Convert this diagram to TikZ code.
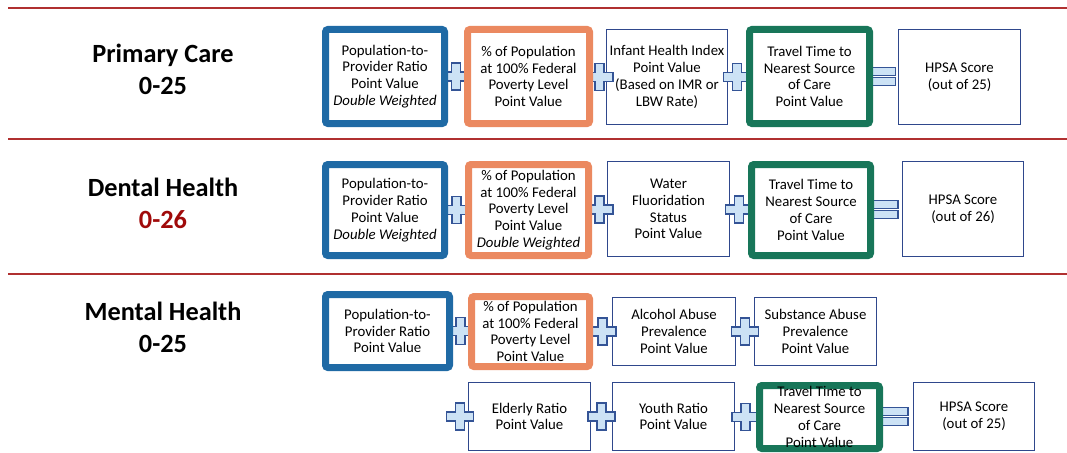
\documentclass[tikz,border=0pt]{standalone}
\usepackage{fontspec}
\setmainfont{Carlito}
\usetikzlibrary{calc}
\pgfdeclarelayer{back}
\pgfdeclarelayer{mid}
\pgfsetlayers{back,mid,main}
\definecolor{boxblue}{RGB}{31,106,165}
\definecolor{boxorange}{RGB}{235,137,96}
\definecolor{boxgreen}{RGB}{24,118,89}
\definecolor{thinblue}{RGB}{47,72,140}
\definecolor{plusfill}{RGB}{204,226,245}
\definecolor{plusline}{RGB}{52,84,150}
\definecolor{rulered}{RGB}{176,48,48}
\definecolor{scorered}{RGB}{160,10,10}
\newcommand{\boxfont}{\fontsize{14.8}{16.8}\selectfont}
\newcommand{\headfont}{\fontsize{26.3}{32}\selectfont\bfseries}

\begin{document}
\begin{tikzpicture}[x=1pt,y=-1pt,
    box/.style={draw=thinblue,line width=1.3pt,fill=white,inner sep=0pt,
      align=center,font=\boxfont},
    heavybox/.style={box,line width=7pt,rounded corners=2.5pt},
    bluebox/.style={heavybox,draw=boxblue},
    orangebox/.style={heavybox,draw=boxorange},
    greenbox/.style={heavybox,draw=boxgreen},
    boxsize/.style 2 args={minimum width=#1pt,minimum height=#2pt},
    heading/.style={align=center,font=\headfont},
    sepline/.style={draw=rulered,line width=1.4pt},
    plussign/.pic={
      \draw[plusline,fill=plusfill,line width=1.2pt]
      (-4.5,-13.5) -- (4.5,-13.5) -- (4.5,-4.5) -- (13.5,-4.5) -- (13.5,4.5)
      -- (4.5,4.5) -- (4.5,13.5) -- (-4.5,13.5) -- (-4.5,4.5) -- (-13.5,4.5)
      -- (-13.5,-4.5) -- (-4.5,-4.5) -- cycle;},
    eqsign/.pic={
      \draw[plusline,fill=plusfill,line width=1.2pt]
      (-16,-9) rectangle (10,-1) (-16,1) rectangle (10,9);}]
  \useasboundingbox (0,0) rectangle (1067,452);
  % \draw[help lines,step=50] (0,0) grid (1067,452);
  \draw[sepline] (8,8) -- (1067,8);
  \draw[sepline] (8,139) -- (1067,139);
  \draw[sepline] (8,274) -- (1067,274);

  \node[heading] (pc) at (163,69) {Primary Care\\0-25};
  \node[heading] (dh) at (163,203) {Dental Health\\\textcolor{scorered}{0-26}};
  \node[heading] (mh) at (163,327) {Mental Health\\0-25};

  \begin{pgfonlayer}{back}
    \node[box,boxsize={120.5}{94.5}] (pc3) at (667,77)
    {Infant Health Index\\Point Value\\(Based on IMR or\\LBW Rate)};
    \node[box,boxsize={121.5}{94.5}] (pc5) at (959.5,77) {HPSA Score\\(out of 25)};
    \node[box,boxsize={121.5}{94.5}] (dh3) at (668.5,209)
    {Water\\Fluoridation\\Status\\Point Value};
    \node[box,boxsize={120.5}{94.5}] (dh5) at (963,209) {HPSA Score\\(out of 26)};
    \node[box,boxsize={122.5}{67.5}] (mh3) at (674,331.5)
    {Alcohol Abuse\\Prevalence\\Point Value};
    \node[box,boxsize={121.5}{67.5}] (mh4) at (815.5,331.5)
    {Substance Abuse\\Prevalence\\Point Value};
    \node[box,boxsize={121.5}{67.5}] (mh5) at (529.5,416.5) {Elderly Ratio\\Point Value};
    \node[box,boxsize={121.5}{67.5}] (mh6) at (673.5,416.5) {Youth Ratio\\Point Value};
    \node[box,boxsize={120.5}{67.5}] (mh8) at (974,416.5) {HPSA Score\\(out of 25)};
  \end{pgfonlayer}

  \node[bluebox,boxsize={119}{94}] (pc1) at (385,76.5)
  {Population-to-\\Provider Ratio\\Point Value\\\textit{Double Weighted}};
  \node[orangebox,boxsize={122}{94}] (pc2) at (528.5,76.5)
  {\% of Population\\at 100\% Federal\\Poverty Level\\Point Value};
  \node[greenbox,boxsize={120}{94}] (pc4) at (809.5,76.5)
  {Travel Time to\\Nearest Source\\of Care\\Point Value};

  \node[bluebox,boxsize={119}{91}] (dh1) at (385,210)
  {Population-to-\\Provider Ratio\\Point Value\\\textit{Double Weighted}};
  \node[orangebox,boxsize={120}{91}] (dh2) at (528.5,210)
  {\% of Population\\at 100\% Federal\\Poverty Level\\Point Value\\\textit{Double Weighted}};
  \node[greenbox,boxsize={119}{91}] (dh4) at (811,210)
  {Travel Time to\\Nearest Source\\of Care\\Point Value};

  \node[bluebox,boxsize={124}{73}] (mh1) at (387.5,331)
  {Population-to-\\Provider Ratio\\Point Value};
  \node[orangebox,boxsize={118}{70}] (mh2) at (530.5,331.5)
  {\% of Population\\at 100\% Federal\\Poverty Level\\Point Value};
  \node[greenbox,boxsize={120}{63}] (mh7) at (819.5,417)
  {Travel Time to\\Nearest Source\\of Care\\Point Value};

  \begin{pgfonlayer}{mid}
    \pic at ($(pc1.east)!.5!(pc2.west)$) {plussign};
    \pic at ($(pc2.east)!.5!(pc3.west)$) {plussign};
    \pic at ($(pc3.east)!.5!(pc4.west)$) {plussign};
    \pic at ($(pc4.east)!.5!(pc5.west)$) {eqsign};
    \pic at ($(dh1.east)!.5!(dh2.west)$) {plussign};
    \pic at ($(dh2.east)!.5!(dh3.west)$) {plussign};
    \pic at ($(dh3.east)!.5!(dh4.west)$) {plussign};
    \pic at ($(dh4.east)!.5!(dh5.west)$) {eqsign};
    \pic at ($(mh1.east)!.5!(mh2.west)$) {plussign};
    \pic at ($(mh2.east)!.5!(mh3.west)$) {plussign};
    \pic at ($(mh3.east)!.5!(mh4.west)$) {plussign};
    \pic at ([xshift=-8.5pt]mh5.west) {plussign};
    \pic at ($(mh5.east)!.5!(mh6.west)$) {plussign};
    \pic at ($(mh6.east)!.5!(mh7.west)$) {plussign};
    \pic at ($(mh7.east)!.5!(mh8.west)$) {eqsign};
  \end{pgfonlayer}
\end{tikzpicture}
\end{document}
